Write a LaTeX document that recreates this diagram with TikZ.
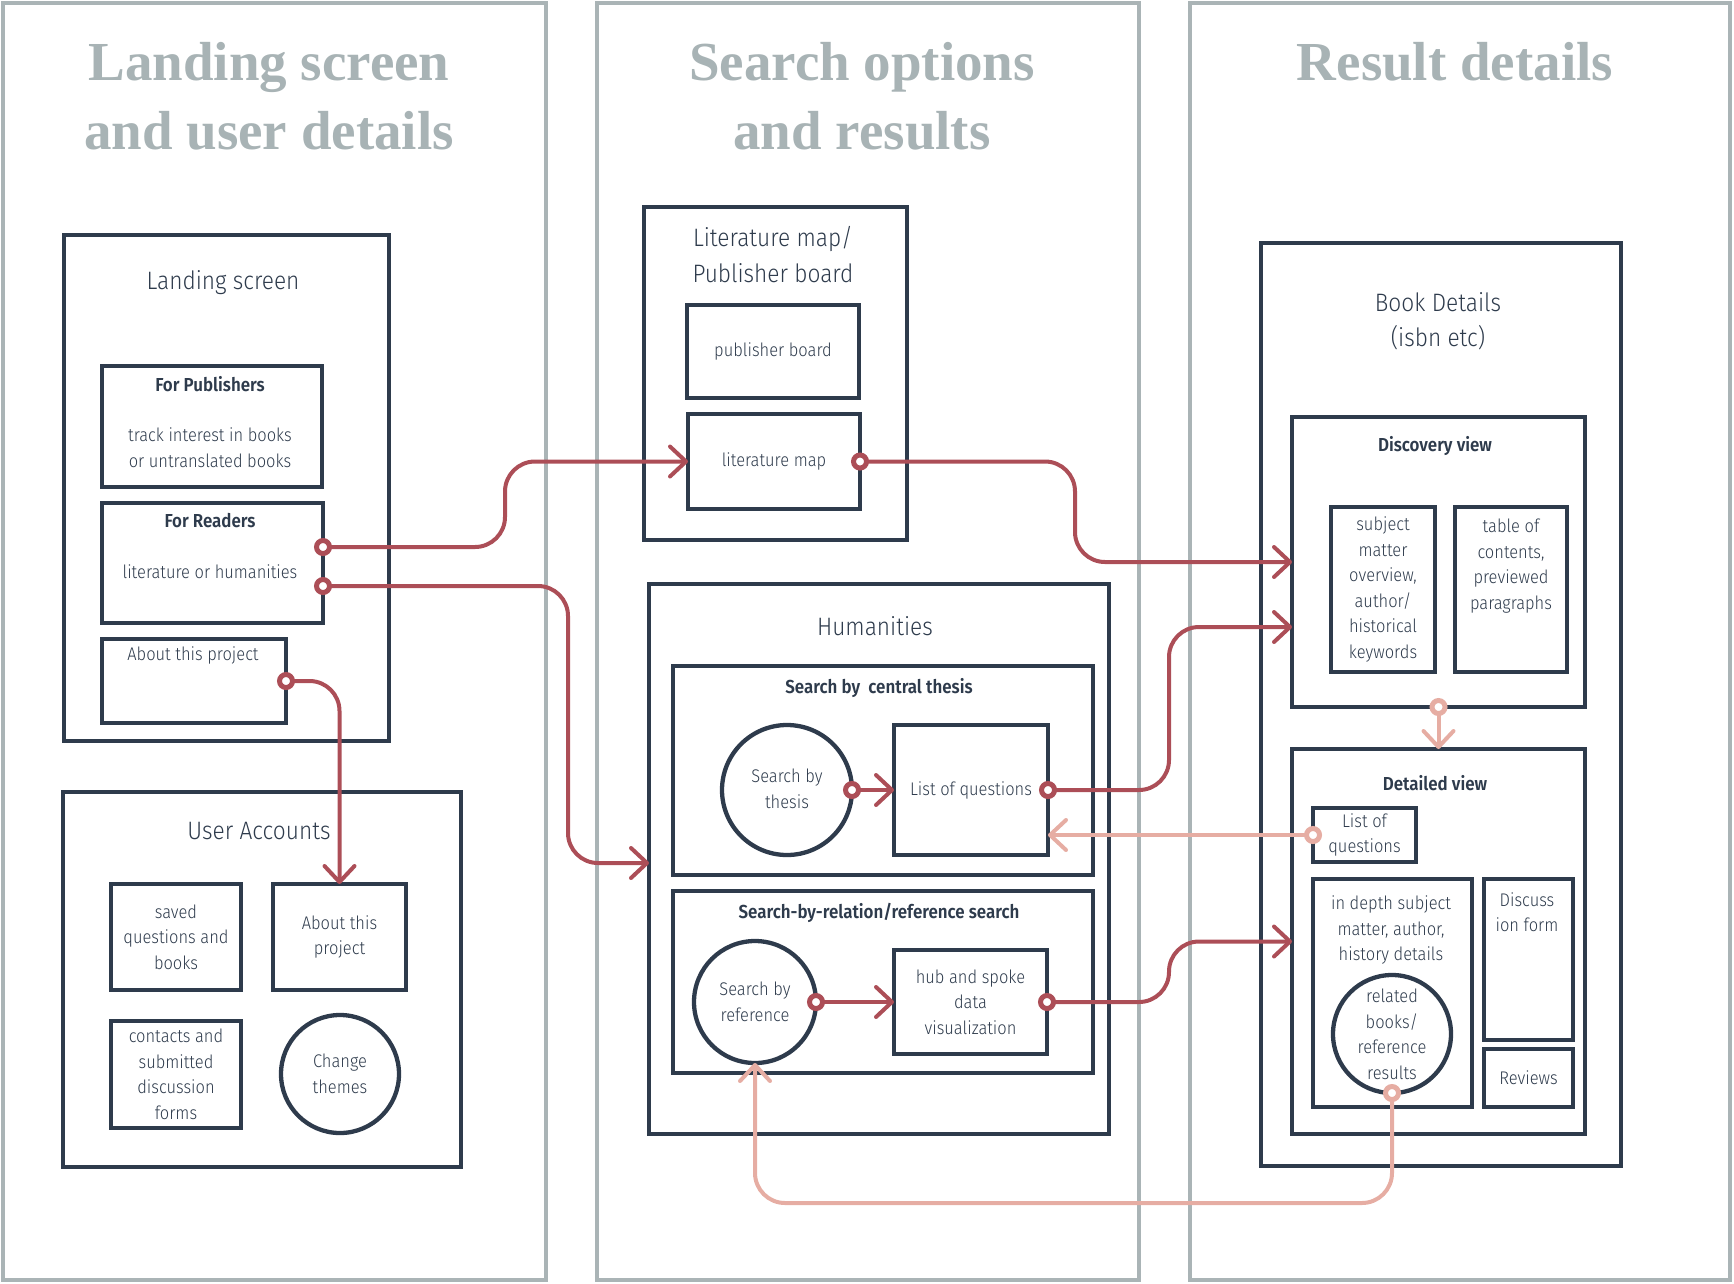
\documentclass[tikz,border=0pt]{standalone}
\usepackage{fontspec}
\usetikzlibrary{arrows.meta,calc}
\IfFontExistsTF{Fira Sans Light}{\setmainfont{Fira Sans Light}[FakeStretch=0.9]}{\setmainfont{Fira Sans}[FakeStretch=0.9]}
\IfFontExistsTF{Fira Sans SemiBold}{\newfontfamily\bsf{Fira Sans SemiBold}[FakeStretch=0.9]}{\newfontfamily\bsf{Fira Sans Bold}[FakeStretch=0.9]}
\newfontfamily\titlef{Liberation Serif}
\definecolor{navy}{RGB}{46,59,76}
\definecolor{cred}{RGB}{172,78,87}
\definecolor{cpink}{RGB}{230,173,163}
\definecolor{cgray}{RGB}{170,180,182}
\definecolor{tgray}{RGB}{168,179,181}
\tikzset{
 panel/.style={draw=cgray, line width=4pt},
 box/.style={draw=navy, line width=4.3pt, rectangle, inner sep=0pt, outer sep=0pt},
 circ/.style={draw=navy, line width=4.3pt, circle, inner sep=0pt, outer sep=0pt},
 txt/.style={text=navy, align=center, inner sep=0pt, font=\fontsize{18.3}{25.5}\selectfont},
 hdr/.style={text=navy, align=center, inner sep=0pt, font=\fontsize{25.2}{35.4}\selectfont},
 bold/.style={text=navy, align=center, inner sep=0pt, font=\bsf\fontsize{18.8}{25}\selectfont},
 ttl/.style={text=tgray, inner sep=0pt, anchor=base, font=\titlef\bfseries\fontsize{55}{70}\selectfont},
 conn/.style={draw=cred, line width=4pt, rounded corners=30pt, -{Straight Barb[length=16pt,width=30pt,line cap=round,line join=round]}},
 pconn/.style={conn, draw=cpink},
 rdot/.style={circle, draw=cred, fill=white, line width=5pt, minimum size=13pt, inner sep=0pt},
 pdot/.style={rdot, draw=cpink},
}
\begin{document}
\begin{tikzpicture}[x=1pt,y=-1pt]
\useasboundingbox (0,0) rectangle (1734,1283);
% column panels
\draw[panel] (2.5,2.5) rectangle (546,1280);
\draw[panel] (597,2.5) rectangle (1139,1280);
\draw[panel] (1190,2.5) rectangle (1730,1280);
\node[ttl] (t1a) at (269,80) {Landing screen};
\node[ttl] (t1b) at (269,149) {and user details};
\node[ttl] (t2a) at (862,80) {Search options};
\node[ttl] (t2b) at (862,149) {and results};
\node[ttl] (t3a) at (1455,80) {Result details};

% ---- column 1
\node[box, minimum width=325, minimum height=506] (landing) at (226.5,488) {};
\node[hdr] (landingT) at (223,283) {Landing screen};
\node[box, minimum width=220, minimum height=121] (pubs) at (212,426.5) {};
\node[bold] (pubsT) at (210,384) {For Publishers};
\node[txt] (pubsX) at (210,447.5) {track interest in books\\or untranslated books};
\node[box, minimum width=221, minimum height=120] (readers) at (212.5,563) {};
\node[bold] (readersT) at (210,521) {For Readers};
\node[txt] (readersX) at (210,572) {literature or humanities};
\node[box, minimum width=184, minimum height=84] (about1) at (194,681) {};
\node[txt] (about1T) at (193,655) {About this project};

\node[box, minimum width=398, minimum height=375] (users) at (262,979.5) {};
\node[hdr] (usersT) at (259,831) {User Accounts};
\node[box, txt, minimum width=130, minimum height=106] (saved) at (176,937) {saved\\questions and\\books};
\node[box, txt, minimum width=133, minimum height=106] (about2) at (339.5,937) {About this\\project};
\node[box, txt, minimum width=130, minimum height=107] (contacts) at (176,1074.5) {contacts and\\submitted\\discussion\\forms};
\node[circ, minimum size=118] (themes) at (340,1074) {};
\node[txt] (themesT) at (340,1074) {Change\\themes};

% ---- column 2
\node[box, minimum width=263, minimum height=333] (litbox) at (775.5,373.5) {};
\node[hdr] (litboxT) at (773,254.5) {Literature map/\\Publisher board};
\node[box, txt, minimum width=172, minimum height=93] (pub) at (773,351.5) {publisher board};
\node[box, txt, minimum width=172, minimum height=95] (litmap) at (774,461.5) {literature map};

\node[box, minimum width=460, minimum height=550] (hum) at (879,859) {};
\node[hdr] (humT) at (875,626) {Humanities};
\node[box, minimum width=420, minimum height=209] (thesis) at (883,770.5) {};
\node[bold] (thesisT) at (879,688) {Search by\ \ central thesis};
\node[circ, minimum size=130] (thc) at (787,790) {};
\node[txt] (thcT) at (787,789) {Search by\\thesis};
\node[box, txt, minimum width=154, minimum height=130] (lq) at (971,790) {List of questions};
\node[box, minimum width=420, minimum height=182] (rel) at (883,982) {};
\node[bold] (relT) at (879,913) {Search-by-relation/reference search};
\node[circ, minimum size=122] (rfc) at (755,1002) {};
\node[txt] (rfcT) at (755,1002) {Search by\\reference};
\node[box, txt, minimum width=153, minimum height=104] (hub) at (970.5,1002) {hub and spoke\\data\\visualization};

% ---- column 3
\node[box, minimum width=360, minimum height=923] (book) at (1441,704.5) {};
\node[hdr] (bookT) at (1438,321) {Book Details\\(isbn etc)};
\node[box, minimum width=293, minimum height=290] (disc) at (1438.5,562) {};
\node[bold] (discT) at (1435,446) {Discovery view};
\node[box, txt, minimum width=104, minimum height=165] (subj) at (1383,589.5) {subject\\matter\\overview,\\author/\\historical\\keywords};
\node[box, minimum width=112, minimum height=165] (toc) at (1511,589.5) {};
\node[txt] (tocT) at (1511,566) {table of\\contents,\\previewed\\paragraphs};
\node[box, minimum width=293, minimum height=385] (det) at (1438.5,941.5) {};
\node[bold] (detT) at (1435,783) {Detailed view};
\node[box, txt, minimum width=103, minimum height=54] (lq2) at (1364.5,835) {List of\\questions};
\node[box, minimum width=159, minimum height=228] (depth) at (1392.5,993) {};
\node[txt] (depthT) at (1391,930) {in depth subject\\matter, author,\\history details};
\node[circ, minimum size=118] (relc) at (1392,1034) {};
\node[txt] (relcT) at (1392,1034.5) {related\\books/\\reference\\results};
\node[box, minimum width=89, minimum height=161] (discuss) at (1528.5,959.5) {};
\node[txt] (discussT) at (1527,912) {Discuss\\ion form};
\node[box, txt, minimum width=89, minimum height=58] (reviews) at (1528.5,1078) {Reviews};

% ---- connector anchors
\coordinate (rd1) at ($(readers.east)+(0,-16)$);
\coordinate (rd2) at ($(readers.east)+(0,23)$);
\coordinate (lmdot) at (litmap.east);
\coordinate (thdot) at (thc.east);
\coordinate (lqdot) at (lq.east);
\coordinate (rfdot) at (rfc.east);
\coordinate (hubdot) at (hub.east);
\coordinate (abdot) at (about1.east);
\coordinate (discdot) at (disc.south);
\coordinate (lq2dot) at (lq2.west);
\coordinate (reldot) at (relc.south);
\coordinate (bx1) at (505,0);
\coordinate (bx2) at (568,0);
\coordinate (bx3) at (1075,0);
\coordinate (bx4) at (1169,0);
\coordinate (by1) at (0,1203);
\coordinate (humin) at ($(hum.west)+(0,4)$);
\coordinate (discin2) at ($(disc.west)+(0,65)$);

% ---- connectors
\draw[conn] (rd1) -- (rd1 -| bx1) |- (litmap.west);
\draw[conn] (rd2) -- (rd2 -| bx2) |- (humin);
\draw[conn] (lmdot) -- (lmdot -| bx3) |- (disc.west);
\draw[conn] (lqdot) -- (lqdot -| bx4) |- (discin2);
\draw[conn] (hubdot) -- (hubdot -| bx4) |- (det.west);
\draw[conn] (thdot) -- (lq.west);
\draw[conn] (rfdot) -- (hub.west);
\draw[conn] (abdot) -| (about2.north);
\draw[pconn] (discdot) -- (det.north);
\draw[pconn] (lq2dot) -- (lq2dot -| lq.east);
\draw[pconn] (reldot) -- (reldot |- by1) -| (rfc.south);

% ---- dots
\node[rdot] (d1) at (rd1) {};
\node[rdot] (d2) at (rd2) {};
\node[rdot] (d3) at (lmdot) {};
\node[rdot] (d4) at (thdot) {};
\node[rdot] (d5) at (lqdot) {};
\node[rdot] (d6) at (rfdot) {};
\node[rdot] (d7) at (hubdot) {};
\node[rdot] (d8) at (abdot) {};
\node[pdot] (d9) at (discdot) {};
\node[pdot] (d10) at (lq2dot) {};
\node[pdot] (d11) at (reldot) {};
\end{tikzpicture}
\end{document}
